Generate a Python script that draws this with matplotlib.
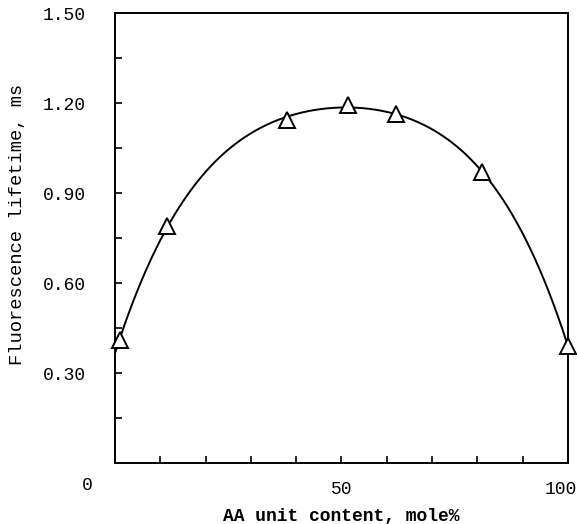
import numpy as np
import matplotlib.pyplot as plt
import matplotlib.transforms as mtransforms

# AA unit content (mole%) and fluorescence lifetime (ms)
aa_content = [1, 11.5, 38, 51.5, 62, 81, 100]
lifetime = [0.41, 0.79, 1.145, 1.195, 1.162, 0.97, 0.39]

x_labels = {50: '50', 100: '100'}
y_labels = {0.30: '0.30', 0.60: '0.60', 0.90: '0.90', 1.20: '1.20', 1.50: '1.50'}

plt.rcParams['font.family'] = ['Liberation Mono', 'DejaVu Sans Mono']

fig = plt.figure(figsize=(5.77, 5.24), dpi=100)
ax = fig.add_axes([0.1993, 0.1164, 0.7851, 0.8586])

# smooth curve through the points
coef = np.polyfit(aa_content, lifetime, 4)
xs = np.linspace(0, 100, 300)
ax.plot(xs, np.polyval(coef, xs), color='black', lw=1.4, zorder=2)
ax.plot(aa_content, lifetime, linestyle='none', marker='^', markersize=11,
        markerfacecolor='white', markeredgecolor='black', markeredgewidth=1.4,
        zorder=3, clip_on=False)

ax.set_xlim(0, 100)
ax.set_ylim(0, 1.5)

xt = np.arange(0, 101, 10)
ax.set_xticks(xt)
ax.set_xticklabels([x_labels.get(int(v), '') for v in xt])
yt = np.round(np.arange(0, 1.51, 0.15), 2)
ax.set_yticks(yt)
ax.set_yticklabels([y_labels.get(round(v, 2), '') for v in yt])

ax.tick_params(direction='in', length=5, width=1.2, labelsize=13, colors='black')
ax.tick_params(axis='x', pad=13)
ax.tick_params(axis='y', pad=21)

for lbl in ax.get_xticklabels():
    if lbl.get_text() == '100':
        lbl.set_horizontalalignment('right')
        lbl.set_transform(lbl.get_transform() +
                          mtransforms.ScaledTranslation(0.09, 0, fig.dpi_scale_trans))

for s in ax.spines.values():
    s.set_linewidth(1.4)

fig.text(87 / 577, 1 - 486 / 524, '0', ha='center', va='center', fontsize=13)

ax.set_xlabel('AA unit content, mole%', fontsize=13, fontweight='bold', va='center')
ax.xaxis.set_label_coords(0.5, -0.12)
ax.set_ylabel('Fluorescence lifetime, ms', fontsize=13.5, va='center')
ax.yaxis.set_label_coords(-0.215, 0.53)

plt.savefig('out.png', dpi=100)
plt.close()
